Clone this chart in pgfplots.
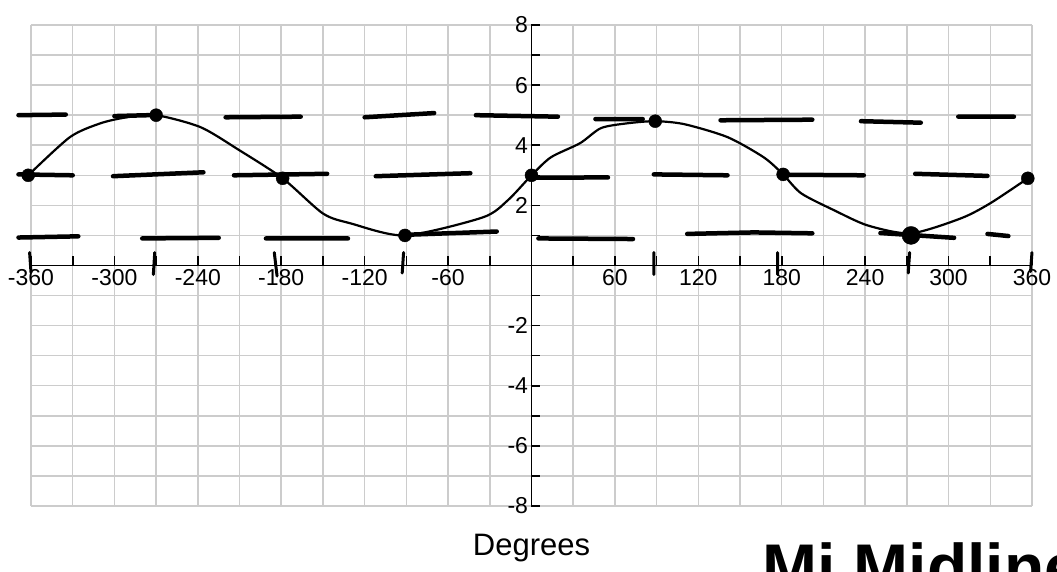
\documentclass[border=0pt]{standalone}
\usepackage{pgfplots}
\pgfplotsset{compat=1.18}
\usepackage{fontspec}
\setmainfont{Liberation Sans}
\definecolor{gridgray}{HTML}{CCCCCC}

\begin{document}
\begin{tikzpicture}[x=1pt,y=1pt]
% fixed page: 1057 x 572, axis box 1001 x 481
\path[use as bounding box] (-31,-66) rectangle (1026,506);
\begin{axis}[
  at={(0,0)}, anchor=south west,
  scale only axis, width=1001pt, height=481pt,
  xmin=-360, xmax=360, ymin=-8, ymax=8,
  clip=false,
  axis lines=middle,
  axis line style={-, line width=1.6pt, black},
  xtick={-360,-300,...,360},
  minor xtick={-330,-270,...,330},
  ytick={-8,-6,...,8},
  minor ytick={-7,-5,...,7},
  xticklabels={-360,-300,-240,-180,-120,-60,,60,120,180,240,300,360},
  yticklabels={-8,-6,-4,-2,,2,4,6,8},
  tick label style={font=\fontsize{23}{23}\selectfont, text=black},
  tick align=inside,
  major tick length=9pt, minor tick length=9pt,
  tick style={black, line width=1.6pt},
  grid=both,
  major grid style={gridgray, line width=1.5pt},
  minor grid style={gridgray, line width=1.5pt},
]
% hand-drawn midline / max / min dashes
\addplot[black, line width=4.5pt, line cap=round, unbounded coords=jump] coordinates {
  (-369,5.0) (-335,5.02) (nan,nan)
  (-300,4.97) (-275,5.0) (nan,nan)
  (-220,4.93) (-166,4.95) (nan,nan)
  (-120,4.93) (-70,5.07) (nan,nan)
  (-40,5.0) (19,4.95) (nan,nan)
  (46,4.87) (80,4.87) (nan,nan)
  (136,4.83) (202,4.85) (nan,nan)
  (237,4.8) (280,4.75) (nan,nan)
  (307,4.95) (347,4.95)
};
\addplot[black, line width=4.5pt, line cap=round, unbounded coords=jump] coordinates {
  (-369,3.03) (-330,3.0) (nan,nan)
  (-301,2.97) (-236,3.1) (nan,nan)
  (-214,3.0) (-147,3.05) (nan,nan)
  (-112,2.97) (-44,3.07) (nan,nan)
  (0,2.92) (55,2.93) (nan,nan)
  (88,3.03) (141,3.0) (nan,nan)
  (181,3.02) (239,3.0) (nan,nan)
  (276,3.05) (328,2.98)
};
\addplot[black, line width=4.5pt, line cap=round, unbounded coords=jump] coordinates {
  (-369,0.93) (-326,0.97) (nan,nan)
  (-280,0.9) (-225,0.92) (nan,nan)
  (-191,0.9) (-132,0.9) (nan,nan)
  (-91,1.02) (-25,1.13) (nan,nan)
  (5,0.9) (73,0.88) (nan,nan)
  (112,1.05) (160,1.1) (202,1.07) (nan,nan)
  (251,1.08) (304,0.92) (nan,nan)
  (328,1.05) (343,0.98)
};
% hand-drawn tick marks on the x axis
\addplot[black, line width=3pt, line cap=round, unbounded coords=jump] coordinates {
  (-361,0.43) (-360,-0.23) (nan,nan)
  (-271,0.43) (-272,-0.3) (nan,nan)
  (-185,0.43) (-183,-0.35) (nan,nan)
  (-92,0.43) (-93,-0.25) (nan,nan)
  (88,0.43) (88,-0.3) (nan,nan)
  (177,0.43) (177,-0.3) (nan,nan)
  (272,0.43) (271,-0.25) (nan,nan)
  (360,0.43) (359,-0.2)
};
% the sketched curve
\addplot[black, line width=2.2pt, smooth, tension=0.45] coordinates {
  (-362,3.0) (-332,4.27) (-310,4.73) (-291,4.93) (-270,5.0) (-238,4.6)
  (-210,3.83) (-179,2.9) (-150,1.73) (-130,1.4) (-91,1.0) (-35,1.6)
  (-17,2.17) (0,3.0) (14,3.6) (35,4.07) (50,4.57) (69,4.73) (89,4.8)
  (110,4.7) (141,4.27) (167,3.6) (181,3.03) (194,2.4) (218,1.83)
  (242,1.33) (273,1.07) (309,1.57) (330,2.07) (357,2.9)
};
\addplot[only marks, mark=*, mark size=6.5pt, black] coordinates {
  (-362,3.0) (-270,5.0) (-179,2.9) (-91,1.0) (0,3.0) (89,4.8) (181,3.03) (357,2.9)
};
\addplot[only marks, mark=*, mark size=9pt, black] coordinates {(273,1.0)};
\node[font=\fontsize{31}{31}\selectfont] at (axis cs:0,-8) [yshift=-42pt] {Degrees};
\end{axis}
\node[anchor=north west, inner sep=0pt, font=\bfseries\fontsize{66}{66}\selectfont] at (731,-36) {Mi Midline};
\end{tikzpicture}
\end{document}
